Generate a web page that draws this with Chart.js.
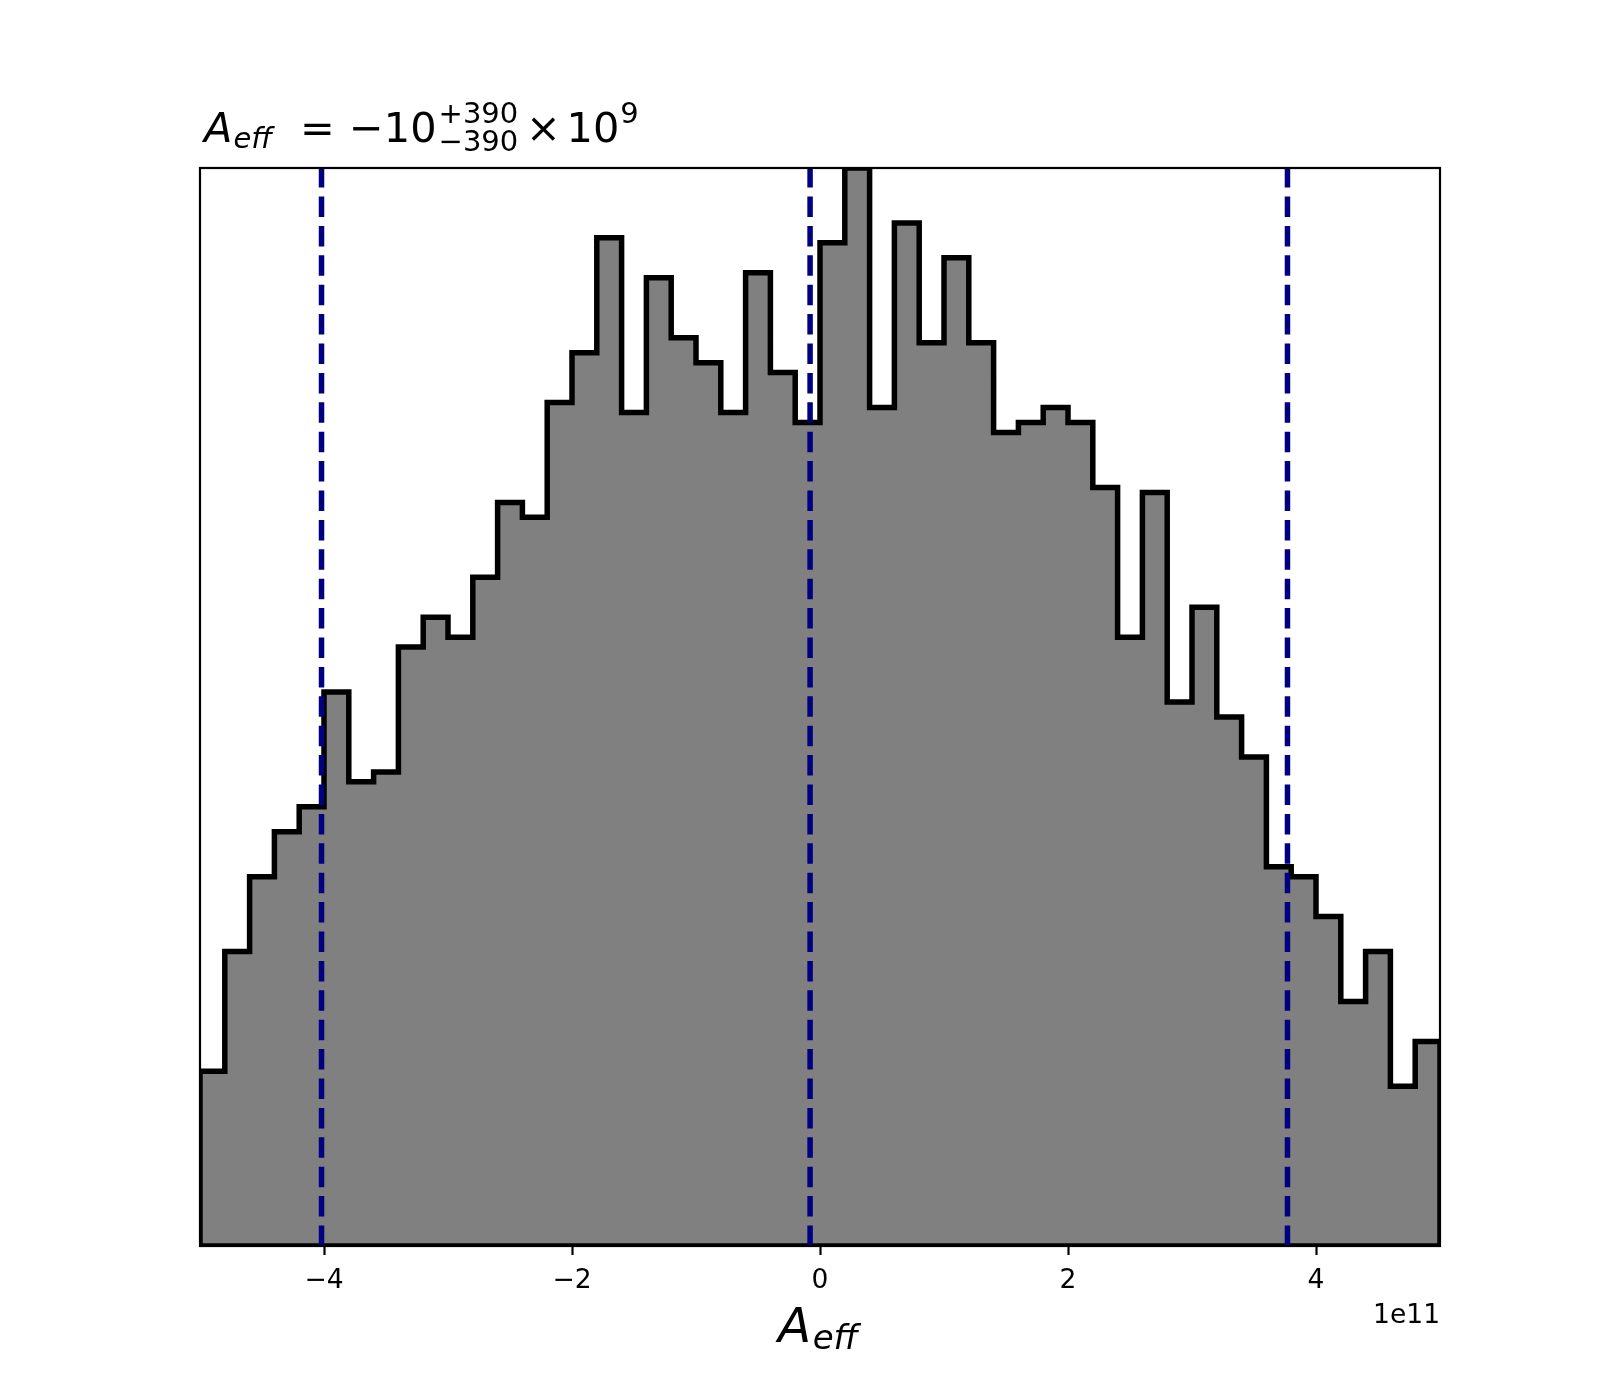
<!DOCTYPE html>
<html><head><meta charset="utf-8">
<script src="https://cdn.jsdelivr.net/npm/chart.js@4.4.1/dist/chart.umd.min.js"></script>
<style>html,body{margin:0;padding:0;background:#fff;}canvas{display:block;}</style>
</head><body>
<canvas id="c" width="1600" height="1400" style="width:1600px;height:1400px"></canvas>
<script>
// ---- data (x in units of 1e11) ----
const binEdges = [-5.0,-4.8,-4.6,-4.4,-4.2,-4.0,-3.8,-3.6,-3.4,-3.2,-3.0,-2.8,-2.6,-2.4,-2.2,-2.0,-1.8,-1.6,-1.4,-1.2,-1.0,-0.8,-0.6,-0.4,-0.2,0.0,0.2,0.4,0.6,0.8,1.0,1.2,1.4,1.6,1.8,2.0,2.2,2.4,2.6,2.8,3.0,3.2,3.4,3.6,3.8,4.0,4.2,4.4,4.6,4.8,5.0];
const counts = [35,59,74,83,88,111,93,95,120,126,
                122,134,149,146,169,179,202,167,194,182,
                177,167,195,175,165,201,216,168,205,181,
                198,181,163,165,168,165,152,122,151,109,
                128,106,98,76,74,66,49,59,32,41];
const quantileLines = [-4.02, -0.08, 3.77];
const xTicks = [-4, -2, 0, 2, 4];
const yTop = 216;

// ---- build datasets from the arrays ----
const histPts = binEdges.map((e, i) => ({x: e, y: counts[Math.min(i, counts.length - 1)]}));
const outline = [{x: binEdges[0], y: 0}].concat(histPts, [{x: binEdges[binEdges.length - 1], y: 0}, {x: binEdges[0], y: 0}]);

const FONT = "'DejaVu Sans'";
const decor = {
  id: 'decor',
  afterDatasetsDraw(chart) {
    const {ctx, chartArea: a} = chart;
    ctx.save();
    ctx.strokeStyle = '#000';
    ctx.lineWidth = 2.2;
    ctx.strokeRect(a.left, a.top, a.right - a.left, a.bottom - a.top);
    ctx.restore();
  },
  afterDraw(chart) {
    const ctx = chart.ctx;
    const a = chart.chartArea;
    ctx.save();
    ctx.fillStyle = '#000';
    ctx.textBaseline = 'alphabetic';
    ctx.textAlign = 'left';
    const put = (t, x, y, size, italic) => {
      ctx.font = (italic ? 'italic ' : '') + size + 'px ' + FONT;
      ctx.fillText(t, x, y);
      return x + ctx.measureText(t).width;
    };
    // title (mathtext-like)
    const base = 141.7;
    const dx = 4;
    let x = put('A', a.left + dx, base, 41.5, true);
    put('eff', x + 1, base + 6, 29, true);
    put('=', 300, base, 41.5, false);
    x = put('\u221210', 349, base, 41.5, false);
    put('+390', x + 2, 123.3, 29, false);
    put('\u2212390', x + 2, 151, 29, false);
    put('\u00d7', 526, base, 41.5, false);
    x = put('10', 566.5, base, 41.5, false);
    put('9', x + 1, 123.3, 29, false);
    // x label
    x = put('A', 778, 1341.7, 48.5, true);
    put('eff', x + 1.5, 1348.5, 34, true);
    // offset text
    ctx.textAlign = 'right';
    ctx.font = '26.5px ' + FONT;
    ctx.fillText('1e11', a.right, 1323.3);
    ctx.restore();
  }
};

new Chart(document.getElementById('c'), {
  type: 'line',
  data: {
    datasets: [
      ...quantileLines.map(q => ({
        data: [{x: q, y: 0}, {x: q, y: yTop}],
        borderColor: '#000080', borderWidth: 5.5, borderDash: [20.5, 8.9],
        pointRadius: 0, fill: false, order: 0, clip: 0
      })),
      {
        data: outline, borderColor: '#000', borderWidth: 5.5, stepped: true,
        fill: false, pointRadius: 0, clip: 0, order: 1, borderJoinStyle: 'miter'
      },
      {
        data: histPts, backgroundColor: '#808080', borderColor: 'rgba(0,0,0,0)', borderWidth: 0,
        stepped: true, fill: 'origin', pointRadius: 0, clip: 0, order: 2
      }
    ]
  },
  options: {
    responsive: false,
    devicePixelRatio: 1,
    animation: false,
    events: [],
    layout: {padding: {left: 200, right: 160, top: 168, bottom: 0}},
    plugins: {legend: {display: false}, tooltip: {enabled: false}, title: {display: false}},
    scales: {
      x: {
        type: 'linear', min: -5, max: 5,
        afterBuildTicks: ax => { ax.ticks = xTicks.map(v => ({value: v})); },
        afterFit: s => { s.height = 154; },
        grid: {display: true, drawOnChartArea: false, drawTicks: true, tickLength: 9, tickWidth: 2.2, tickColor: '#000'},
        border: {display: false},
        ticks: {
          font: {family: FONT, size: 26.5}, color: '#000', padding: 10,
          maxRotation: 0, autoSkip: false,
          callback: v => (v < 0 ? '\u2212' + Math.abs(v) : String(v))
        }
      },
      y: {display: false, min: 0, max: yTop}
    }
  },
  plugins: [decor]
});
</script>
</body></html>
